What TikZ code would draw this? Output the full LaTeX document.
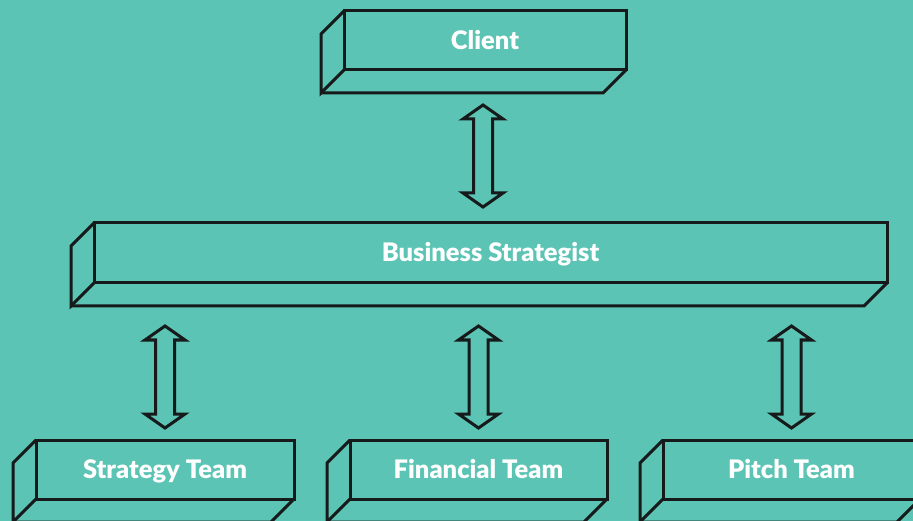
\documentclass[tikz,border=0pt]{standalone}
\usepackage{fontspec}
\setmainfont{Lato}[BoldFont={Lato Black}]
\usetikzlibrary{calc}
\definecolor{bg}{HTML}{5CC4B4}
\definecolor{ink}{HTML}{161A1A}
\begin{document}
\begin{tikzpicture}[x=1pt,y=-1pt,
  line width=3pt, line join=miter,
  face/.style={draw=ink, minimum height=59pt, inner sep=0pt, outer sep=0pt,
     text height=18pt, text depth=0pt,
     font=\bfseries\fontsize{25.5}{28}\selectfont, text=white},
  pics/dbl/.style={code={
    \draw[ink] (0,-51) -- (20,-37) -- (9.5,-37) -- (9.5,37) -- (20,37) -- (0,51)
       -- (-20,37) -- (-9.5,37) -- (-9.5,-37) -- (-20,-37) -- cycle;}}]
\fill[bg] (0,0) rectangle (913,521);
\useasboundingbox (0,0) rectangle (913,521);
\newcommand{\sides}[2]{%
  \draw[ink] (#1.north west) -- ++(-23,23) -- ++(0,#2) coordinate (#1-b) -- (#1.south west);
  \draw[ink] (#1-b) -- ($(#1.south east)+(-23,23)$) -- (#1.south east);}
\node[face, minimum width=282pt] (client) at (485,40.5) {Client};
\node[face, minimum width=793pt, minimum height=60pt] (bs) at (490.5,253) {Business Strategist};
\node[face, minimum width=258pt] (st) at (165,469.5) {Strategy Team};
\node[face, minimum width=257pt] (ft) at (478.5,469.5) {Financial Team};
\node[face, minimum width=257pt] (pt) at (791.5,469.5) {Pitch Team};
\sides{client}{59}
\sides{bs}{60}
\sides{st}{59}
\sides{ft}{59}
\sides{pt}{59}
\coordinate (a0) at (483,156);
\pic at (a0) {dbl};
\pic at (st.north |- 0,377) {dbl};
\pic at (ft.north |- 0,377) {dbl};
\pic at (pt.north |- 0,377) {dbl};
\end{tikzpicture}
\end{document}
